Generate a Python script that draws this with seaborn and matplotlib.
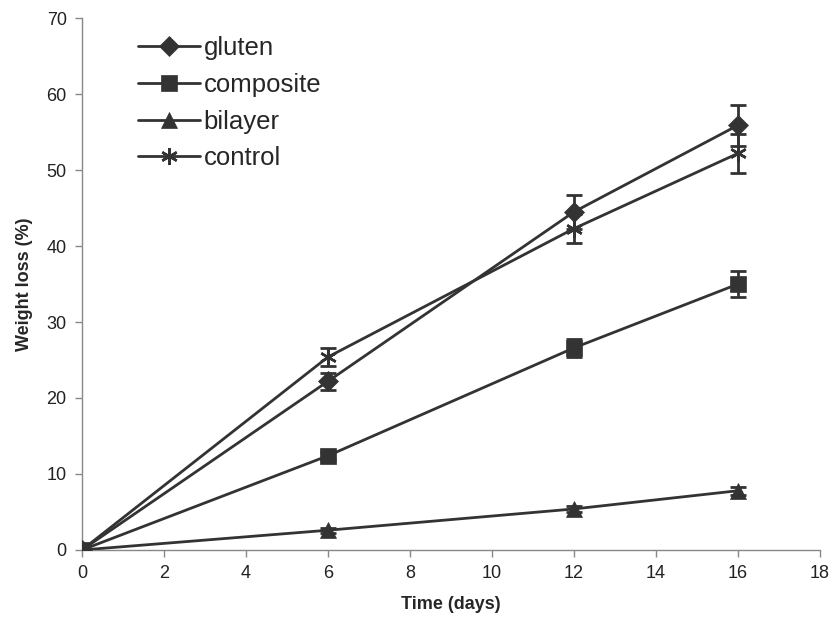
import matplotlib
matplotlib.use("Agg")
import matplotlib.pyplot as plt
import seaborn as sns
import pandas as pd

days = [0, 6, 12, 16]
gluten = [0, 22.2, 44.5, 55.9]
gluten_err = [0, 1.1, 2.2, 2.7]
composite = [0, 12.4, 26.6, 35.0]
composite_err = [0, 0.5, 1.2, 1.7]
bilayer = [0, 2.6, 5.4, 7.8]
bilayer_err = [0, 0.3, 0.4, 0.5]
control = [0, 25.4, 42.3, 52.2]
control_err = [0, 1.2, 1.9, 2.6]

series = [
    ("gluten", gluten, gluten_err, "D", 10, 4),
    ("composite", composite, composite_err, "s", 11, 5),
    ("bilayer", bilayer, bilayer_err, "^", 11, 3),
    ("control", control, control_err, (6, 2, 0), 12, 4),
]

sns.set_style("white")
plt.rcParams["font.family"] = ["Liberation Sans", "DejaVu Sans"]

fig = plt.figure(figsize=(8.36, 6.31), dpi=100)
ax = fig.add_axes([0.098, 0.1284, 0.883, 0.843])

col = "#333333"
for name, vals, errs, mk, ms, z in series:
    df = pd.DataFrame({"Time": days, "Loss": vals})
    ax.errorbar(days, vals, yerr=errs, fmt="none", ecolor=col, elinewidth=2,
                capsize=6, capthick=2, zorder=2)
    sns.lineplot(data=df, x="Time", y="Loss", ax=ax, color=col, linewidth=2,
                 marker=mk, markersize=ms, markeredgecolor=col,
                 markeredgewidth=1.8 if mk == (6, 2, 0) else 0.5,
                 markerfacecolor=col, label=name, zorder=z)

ax.set_xlim(0, 18)
ax.set_ylim(0, 70)
ax.set_xticks(range(0, 19, 2))
ax.set_yticks(range(0, 71, 10))
ax.tick_params(axis="both", direction="out", length=5, width=1, color="#888888",
               labelsize=13, labelcolor="#222222", bottom=True, left=True, pad=6)
for s in ["top", "right"]:
    ax.spines[s].set_visible(False)
for s in ["left", "bottom"]:
    ax.spines[s].set_color("#888888")
    ax.spines[s].set_linewidth(1)

ax.set_xlabel("Time (days)", fontsize=13, fontweight="bold", labelpad=10)
ax.set_ylabel("Weight loss (%)", fontsize=13, fontweight="bold", labelpad=10)

leg = ax.legend(loc="upper left", bbox_to_anchor=(0.045, 1.01), frameon=False,
                fontsize=18.5, handlelength=2.4, handletextpad=0.15, labelspacing=0.5)

fig.savefig("out.png", dpi=100)
